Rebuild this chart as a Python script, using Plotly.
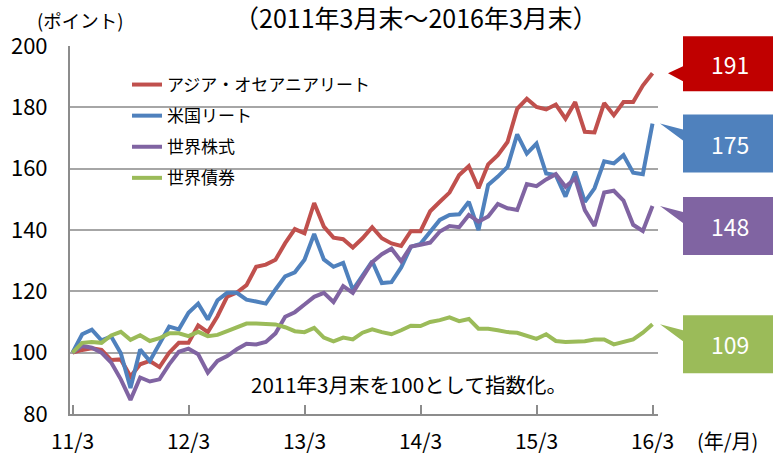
import plotly.graph_objects as go

FONT = "Noto Sans CJK JP"

months = list(range(61))
tick_idx = [0, 12, 24, 36, 48, 60]
tick_labels = ["11/3", "12/3", "13/3", "14/3", "15/3", "16/3"]

asia_reit = [100, 100.9, 101.4, 100.9, 97.6, 97.8, 92.2, 96.2, 97.3, 95.3,
             100, 103.2, 103.2, 108.9, 106.7, 111.9, 118.3, 119.6, 122, 128,
             128.7, 130.3, 135.7, 140.3, 138.9, 148.8, 141.1, 137.5, 137, 134.3,
             137.3, 140.9, 137.3, 135.6, 134.8, 139.6, 139.6, 146.1, 149.2, 152.2,
             157.9, 160.8, 153.6, 161.4, 164.4, 168.7, 179.5, 182.8, 180.1, 179.3,
             180.9, 176.3, 181.7, 172, 171.8, 181.4, 177.4, 181.7, 181.7, 187.1,
             191.1]
us_reit = [100, 106, 107.5, 104, 105.3, 99.8, 88.5, 101, 97.3, 102.8,
           108.5, 107.6, 113, 116, 110.8, 117.1, 119.5, 119.5, 117.3, 116.7,
           116, 120.6, 124.9, 126.2, 130.3, 138.7, 130.4, 128, 129.3, 120.5,
           125.4, 129.8, 122.7, 123, 127.8, 134.5, 135.5, 139.3, 143.3, 144.9,
           145.1, 149.2, 140, 154.7, 157.4, 160.6, 171.2, 164.9, 168.2, 158.4,
           157.9, 150.9, 159, 149.2, 153.6, 162.4, 161.7, 164.4, 158.7, 158.2,
           174.7]
world_equity = [100, 102.2, 101.6, 100, 96.8, 91.3, 84.6, 91.9, 90.6, 91.3,
                96.2, 100.3, 101.3, 99.5, 93.5, 97.3, 98.9, 101.1, 102.9, 102.7,
                103.5, 106.3, 111.7, 113.2, 115.7, 118.2, 119.5, 116.5, 121.7, 119.5,
                124.5, 129.5, 132.1, 133.9, 129.8, 134.6, 135.2, 135.9, 139.5, 141.3,
                140.9, 144.9, 142.7, 144.4, 148.5, 147.1, 146.5, 155, 154.3, 156.5,
                158.2, 154.1, 156.8, 146.5, 141.3, 152.2, 152.8, 149.6, 141.7, 139.7,
                147.8]
world_bond = [100, 103.2, 103.5, 103.2, 105.6, 106.8, 104.2, 105.7, 103.8, 104.7,
              106.3, 106.3, 105.4, 106.8, 105.4, 105.8, 107, 108.1, 109.5, 109.5,
              109.5, 109.2, 108.3, 107, 106.7, 108.1, 104.9, 103.7, 104.9, 104.3,
              106.5, 107.6, 106.7, 106, 107.3, 108.8, 108.7, 110, 110.6, 111.5,
              110.3, 111, 107.8, 107.8, 107.3, 106.7, 106.5, 105.6, 104.5, 106,
              103.8, 103.5, 103.6, 103.7, 104.3, 104.3, 102.7, 103.5, 104.3, 106.5,
              109.3]

series_names = ["アジア・オセアニアリート", "米国リート", "世界株式", "世界債券"]
series_values = [asia_reit, us_reit, world_equity, world_bond]
line_colors = ["#C0504D", "#4F81BD", "#8064A2", "#9BBB59"]
box_colors = ["#C00000", "#4F81BD", "#8064A2", "#9BBB59"]

Y_MIN, Y_MAX = 80, 200
W, H = 773, 454
ML, MT = 70, 46
PW, PH = 588, 368
MR, MB = W - ML - PW, H - MT - PH

fig = go.Figure()
for i, (name, vals, col) in enumerate(zip(series_names, series_values, line_colors)):
    fig.add_trace(go.Scatter(
        x=months, y=vals, mode="lines", name=name,
        line=dict(color=col, width=4), legendgroup=f"g{i}",
    ))


def px_x(p):
    return (p - ML) / PW


def px_y(p):
    return (H - MB - p) / PH


# callouts: (box_top offset from tip px, box height px, wedge join offsets from box top, tip x px)
callout_style = [
    (-37, 55, 30, 45, 668),
    (-9, 58, 15, 26, 660),
    (-9, 58, 15, 26, 660),
    (-9, 58, 15, 26, 660),
]
box_left, box_right = 683, 790
shapes = []
annotations = []
for vals, bc, st in zip(series_values, box_colors, callout_style):
    last = vals[-1]
    tip_py = MT + (Y_MAX - last) / (Y_MAX - Y_MIN) * PH
    top_off, bh, j1, j2, tip_x = st
    top = tip_py + top_off
    bot = top + bh
    pts = [(box_left, top), (box_right, top), (box_right, bot), (box_left, bot),
           (box_left, top + j2), (tip_x, tip_py), (box_left, top + j1)]
    path = "M " + " L ".join(f"{px_x(a):.5f},{px_y(b):.5f}" for a, b in pts) + " Z"
    shapes.append(dict(type="path", xref="paper", yref="paper", path=path,
                       fillcolor=bc, line=dict(width=0), layer="above"))
    annotations.append(dict(
        x=px_x(730), y=px_y((top + bot) / 2), xref="paper", yref="paper",
        text=f"{round(last)}", showarrow=False,
        font=dict(family=FONT, size=23, color="white"),
        xanchor="center", yanchor="middle"))

annotations += [
    dict(x=px_x(416), y=px_y(17), xref="paper", yref="paper",
         text="（2011年3月末～2016年3月末）", showarrow=False,
         font=dict(family=FONT, size=25, color="#000000"), xanchor="center", yanchor="middle"),
    dict(x=px_x(80), y=px_y(20), xref="paper", yref="paper",
         text="(ポイント)", showarrow=False,
         font=dict(family=FONT, size=18.5, color="#000000"), xanchor="center", yanchor="middle"),
    dict(x=px_x(409), y=px_y(384), xref="paper", yref="paper",
         text="2011年3月末を100として指数化。", showarrow=False,
         font=dict(family=FONT, size=20.5, color="#000000"), xanchor="center", yanchor="middle"),
    dict(x=px_x(727), y=px_y(440), xref="paper", yref="paper",
         text="(年/月)", showarrow=False,
         font=dict(family=FONT, size=20, color="#000000"), xanchor="center", yanchor="middle"),
]

fig.update_layout(
    width=W, height=H,
    margin=dict(l=ML, r=MR, t=MT, b=MB, pad=0, autoexpand=False),
    paper_bgcolor="white", plot_bgcolor="white",
    font=dict(family=FONT, color="#000000"),
    showlegend=True,
    legend=dict(x=px_x(127), y=px_y(67), xanchor="left", yanchor="top",
                font=dict(family=FONT, size=17, color="#000000"),
                bgcolor="rgba(0,0,0,0)", traceorder="grouped", tracegroupgap=6,
                itemwidth=30),
    shapes=shapes, annotations=annotations,
    xaxis=dict(range=[-2.5 / 9.667, 60 + 5.5 / 9.667], tickvals=tick_idx, ticktext=tick_labels,
               automargin=False,
               showgrid=False, zeroline=False, showline=True, linecolor="#8C8C8C", linewidth=2,
               ticks="inside", ticklen=9, tickcolor="#8C8C8C", tickwidth=1.5,
               tickfont=dict(family=FONT, size=21, color="#000000"), ticklabelstandoff=8),
    yaxis=dict(range=[Y_MIN, Y_MAX], dtick=20, tick0=80, automargin=False,
               showgrid=True, gridcolor="#A6A6A6", gridwidth=1.5,
               zeroline=False, showline=True, linecolor="#8C8C8C", linewidth=2,
               ticks="", tickfont=dict(family=FONT, size=22, color="#000000"),
               ticklabelstandoff=16),
)

fig.write_html("out.html", config={"displayModeBar": False},
               post_script="document.body.style.margin='0px';")
